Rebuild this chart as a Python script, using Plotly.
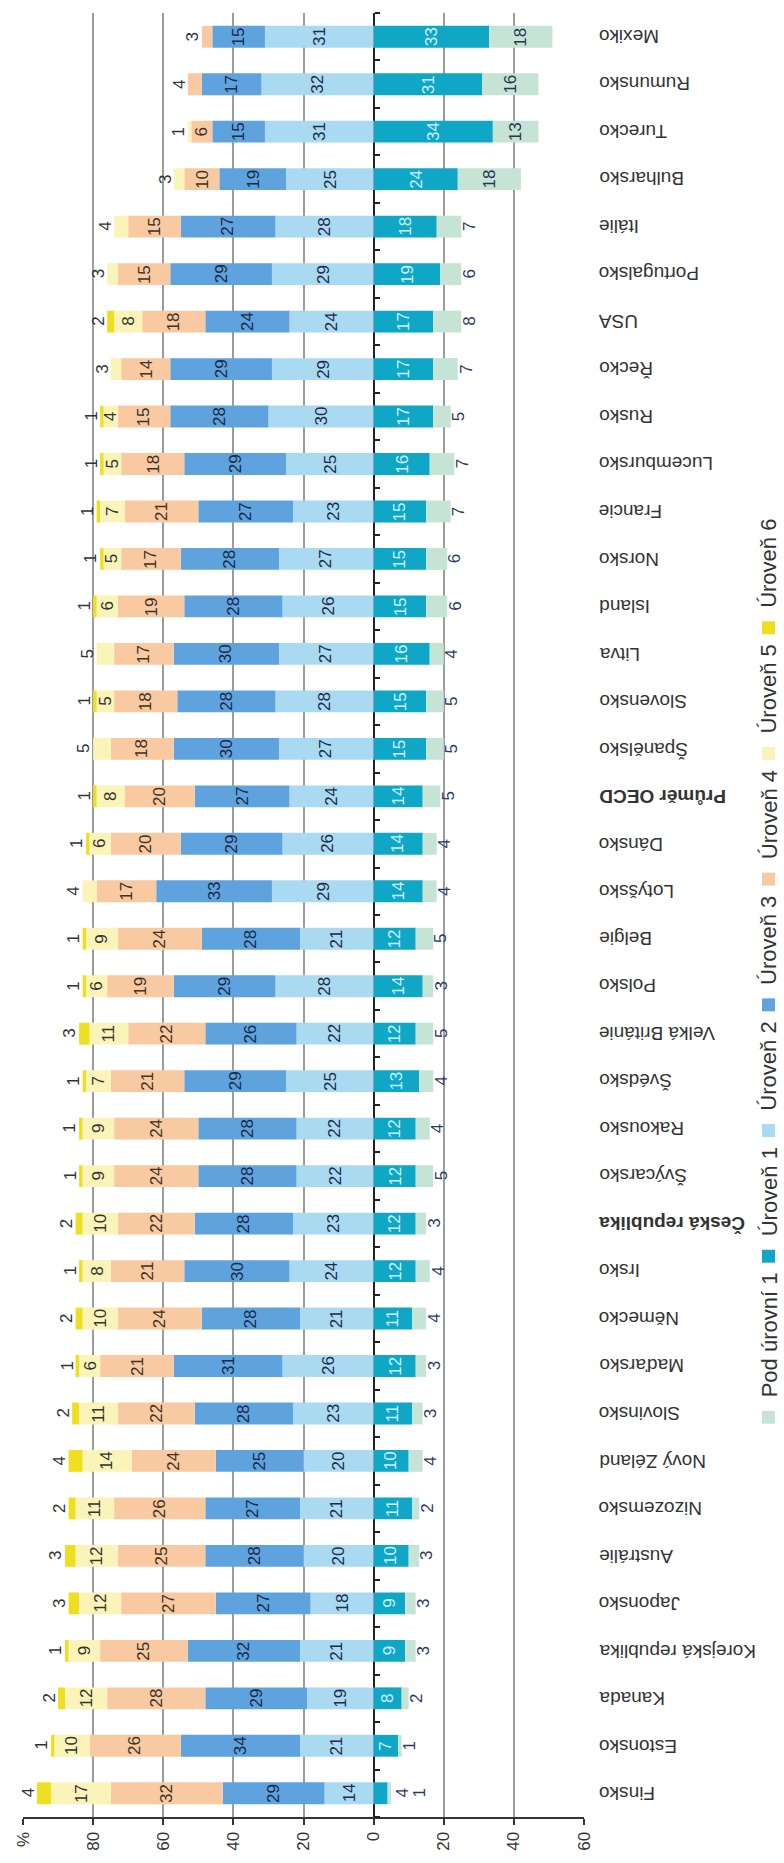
import plotly.graph_objects as go

# ---------------- data (bottom -> top) ----------------
countries = ["Finsko", "Estonsko", "Kanada", "Korejská republika", "Japonsko", "Austrálie",
             "Nizozemsko", "Nový Zéland", "Slovinsko", "Maďarsko", "Německo", "Irsko",
             "Česká republika", "Švýcarsko", "Rakousko", "Švédsko", "Velká Británie", "Polsko",
             "Belgie", "Lotyšsko", "Dánsko", "Průměr OECD", "Španělsko", "Slovensko", "Litva",
             "Island", "Norsko", "Francie", "Lucembursko", "Rusko", "Řecko", "USA", "Portugalsko",
             "Itálie", "Bulharsko", "Turecko", "Rumunsko", "Mexiko"]
highlighted = ["Česká republika", "Průměr OECD"]

pod = [1, 1, 2, 3, 3, 3, 2, 4, 3, 3, 4, 4, 3, 5, 4, 4, 5, 3, 5, 4, 4, 5, 5, 5, 4, 6, 6, 7, 7, 5, 7, 8, 6, 7, 18, 13, 16, 18]
u1 = [4, 7, 8, 9, 9, 10, 11, 10, 11, 12, 11, 12, 12, 12, 12, 13, 12, 14, 12, 14, 14, 14, 15, 15, 16, 15, 15, 15, 16, 17, 17, 17, 19, 18, 24, 34, 31, 33]
u2 = [14, 21, 19, 21, 18, 20, 21, 20, 23, 26, 21, 24, 23, 22, 22, 25, 22, 28, 21, 29, 26, 24, 27, 28, 27, 26, 27, 23, 25, 30, 29, 24, 29, 28, 25, 31, 32, 31]
u3 = [29, 34, 29, 32, 27, 28, 27, 25, 28, 31, 28, 30, 28, 28, 28, 29, 26, 29, 28, 33, 29, 27, 30, 28, 30, 28, 28, 27, 29, 28, 29, 24, 29, 27, 19, 15, 17, 15]
u4 = [32, 26, 28, 25, 27, 25, 26, 24, 22, 21, 24, 21, 22, 24, 24, 21, 22, 19, 24, 17, 20, 20, 18, 18, 17, 19, 17, 21, 18, 15, 14, 18, 15, 15, 10, 6, 4, 3]
u5 = [17, 10, 12, 9, 12, 12, 11, 14, 11, 6, 10, 8, 10, 9, 9, 7, 11, 6, 9, 4, 6, 8, 5, 5, 5, 6, 5, 7, 5, 4, 3, 8, 3, 4, 3, 1, 0, 0]
u6 = [4, 1, 2, 1, 3, 3, 2, 4, 2, 1, 2, 1, 2, 1, 1, 1, 3, 1, 1, 0, 1, 1, 0, 1, 0, 1, 1, 1, 1, 1, 0, 2, 0, 0, 0, 0, 0, 0]

level_names = ["Pod úrovní 1", "Úroveň 1", "Úroveň 2", "Úroveň 3", "Úroveň 4", "Úroveň 5", "Úroveň 6"]
level_colors = ["#c6e4d6", "#10a6c5", "#a9daf2", "#5ea3de", "#f9c9a2", "#fbf4b8", "#eee020"]
text_colors = ["#2e3a66", "#c8f2ff", "#1f2d48", "#1a2a48", "#3e3325", "#333333", "#333333"]

tick_vals = [100, 80, 60, 40, 20, 0, -20, -40, -60]
tick_text = ["%", "80", "60", "40", "20", "0", "20", "40", "60"]

# ---------------- geometry ----------------
W, H = 784, 1863
ML, MR, MT, MB = 23, 200, 13, 38
PW, PH = W - ML - MR, H - MT - MB
FONT = "Liberation Sans, Arial, sans-serif"


def px_x(px):
    return (px - ML) / PW


def px_y(py):
    return (H - MB - py) / PH


fig = go.Figure()

# negative side (Úroveň 1 next to zero, then Pod úrovní 1), positive side stacked outward
neg_series = [(1, u1), (0, pod)]
pos_series = [(2, u2), (3, u3), (4, u4), (5, u5), (6, u6)]
for idx, vals in neg_series:
    fig.add_trace(go.Bar(y=countries, x=[-v for v in vals], orientation="h", name=level_names[idx],
                         marker=dict(color=level_colors[idx], line=dict(width=0)), showlegend=False,
                         hoverinfo="skip"))
for idx, vals in pos_series:
    fig.add_trace(go.Bar(y=countries, x=vals, orientation="h", name=level_names[idx],
                         marker=dict(color=level_colors[idx], line=dict(width=0)), showlegend=False,
                         hoverinfo="skip"))

annotations = []


def num(x, y, v, color, xshift=0):
    annotations.append(dict(x=x, y=y, xref="x", yref="y", text=str(v), showarrow=False,
                            textangle=-90, xanchor="center", yanchor="middle", xshift=xshift,
                            font=dict(family=FONT, size=17, color=color)))


all_pos = [u2, u3, u4, u5, u6]
for i, c in enumerate(countries):
    # negative side
    if u1[i] >= 5:
        num(-u1[i] / 2, c, u1[i], text_colors[1])
        if pod[i] >= 10:
            num(-(u1[i] + pod[i] / 2), c, pod[i], "#2a3550")
        else:
            num(-(u1[i] + pod[i]), c, pod[i], text_colors[0], xshift=8)
    else:
        end = -(u1[i] + pod[i])
        num(end, c, u1[i], text_colors[0], xshift=11)
        num(end, c, pod[i], text_colors[0], xshift=28)
    # positive side
    nz = [k for k in range(5) if all_pos[k][i] > 0]
    last = nz[-1]
    cum = 0
    for k in range(5):
        v = all_pos[k][i]
        if v <= 0:
            continue
        if k == last and (k == 4 or v <= 5):
            num(cum + v, c, v, "#333333", xshift=-9)
        else:
            num(cum + v / 2, c, v, text_colors[k + 2])
        cum += v
    # category label (drawn upside down as in the reference)
    label = f"<b>{c}</b>" if c in highlighted else c
    annotations.append(dict(x=px_x(597), y=c, xref="paper", yref="y", text=label, showarrow=False,
                            textangle=180, xanchor="left", yanchor="middle",
                            font=dict(family=FONT, size=19, color="#333333")))

# ---------------- rotated legend (reads bottom -> top) ----------------
EM = {"P": 0.667, "o": 0.556, "d": 0.556, " ": 0.278, "ú": 0.556, "r": 0.333, "v": 0.5,
      "n": 0.556, "í": 0.278, "Ú": 0.722, "e": 0.556, "ň": 0.556}
LEG_FS = 22
SW, GAP = 13, 12
shapes = []
y_cur = 1430
for j, name in enumerate(level_names):
    tlen = sum(EM.get(ch, 0.556) for ch in name) * LEG_FS
    shapes.append(dict(type="rect", xref="paper", yref="paper",
                       x0=px_x(762), x1=px_x(775), y0=px_y(y_cur), y1=px_y(y_cur - SW),
                       fillcolor=level_colors[j], line=dict(width=0)))
    annotations.append(dict(x=px_x(769), y=px_y(y_cur - SW - GAP), xref="paper", yref="paper",
                            text=name, showarrow=False, textangle=-90,
                            xanchor="center", yanchor="bottom", borderpad=0,
                            font=dict(family=FONT, size=LEG_FS, color="#333333")))
    y_cur -= SW + GAP + tlen + GAP

fig.update_layout(
    width=W, height=H,
    margin=dict(l=ML, r=MR, t=MT, b=MB, pad=0),
    paper_bgcolor="white", plot_bgcolor="white",
    barmode="relative", bargap=0.54,
    annotations=annotations, shapes=shapes,
    showlegend=False,
    font=dict(family=FONT, color="#333333"),
    xaxis=dict(range=[100, -60], tickvals=tick_vals, ticktext=tick_text, tickangle=-90,
               showgrid=True, gridcolor="#9c9c9c", gridwidth=1.5,
               zeroline=True, zerolinecolor="#222222", zerolinewidth=2,
               showline=True, linecolor="#333333", linewidth=2,
               ticks="outside", ticklen=6, tickcolor="#333333", tickwidth=1.5,
               tickfont=dict(family=FONT, size=17, color="#333333")),
    yaxis=dict(type="category", range=[-0.5, len(countries) - 0.5], anchor="free",
               position=(100 - 0) / 160, side="right", showgrid=False, zeroline=False,
               showline=False, showticklabels=False, ticks="outside", tickson="boundaries",
               ticklen=5, tickcolor="#222222", tickwidth=1.5),
)

fig.write_html("out.html")
